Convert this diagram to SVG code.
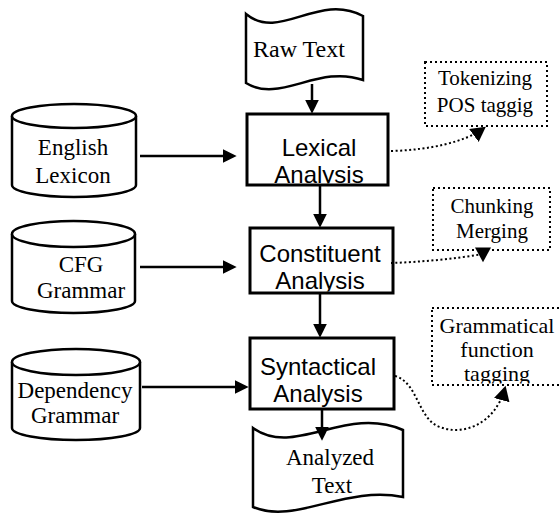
<svg xmlns="http://www.w3.org/2000/svg" width="559" height="515" viewBox="0 0 559 515">
<style>
.serif{font-family:"Liberation Serif","Times New Roman",serif;font-size:23px;fill:#000;text-anchor:middle}
.small{font-size:22px}
.smaller{font-size:21px}
.sans{font-family:"Liberation Sans",Arial,sans-serif;font-size:24px;fill:#000;text-anchor:middle}
.box{fill:#fff;stroke:#000;stroke-width:3}
.shape{fill:#fff;stroke:#000;stroke-width:2.5}
.dbox{fill:#fff;stroke:#000;stroke-width:2;stroke-dasharray:2 3}
.arrow{fill:none;stroke:#000;stroke-width:2.5;marker-end:url(#ah)}
.dot{fill:none;stroke:#000;stroke-width:2;stroke-dasharray:2 2.5;marker-end:url(#dh)}
</style>
<defs>
<marker id="ah" markerUnits="userSpaceOnUse" markerWidth="14" markerHeight="14" refX="2" refY="6" orient="auto" viewBox="0 0 12 12"><path d="M0,0 L12,6 L0,12 z" fill="#000"/></marker>
<marker id="dh" markerUnits="userSpaceOnUse" markerWidth="16" markerHeight="16" refX="11" refY="7" orient="auto" viewBox="0 0 14 14"><path d="M0,0 L13,7 L0,14 z" fill="#000"/></marker>
<clipPath id="c1"><rect x="248" y="115" width="139" height="68.5"/></clipPath>
<clipPath id="c2"><rect x="251" y="229" width="141" height="62.5"/></clipPath>
<clipPath id="c3"><rect x="251" y="339" width="142" height="68.5"/></clipPath>
<clipPath id="c4"><rect x="433" y="309" width="130" height="74.5"/></clipPath>
</defs>
<rect width="559" height="515" fill="#fff"/>

<g id="raw-text">
<path class="shape" d="M246,14 C280,42 318,-8 363,16 L363,80 C318,64 280,104 246,83 Z"/>
<text class="serif" x="299" y="57" style="font-size:24px">Raw Text</text>
</g>

<g id="lexical-analysis">
<rect class="box" x="247" y="114" width="141" height="71"/>
<g clip-path="url(#c1)">
<text class="sans" x="319" y="156">Lexical</text>
<text class="sans" x="319" y="183">Analysis</text>
</g>
</g>

<g id="constituent-analysis">
<rect class="box" x="250" y="228" width="143" height="65"/>
<g clip-path="url(#c2)">
<text class="sans" x="320" y="262">Constituent</text>
<text class="sans" x="320" y="289">Analysis</text>
</g>
</g>

<g id="syntactical-analysis">
<rect class="box" x="250" y="338" width="144" height="71"/>
<g clip-path="url(#c3)">
<text class="sans" x="318" y="375">Syntactical</text>
<text class="sans" x="318" y="402">Analysis</text>
</g>
</g>

<g id="analyzed-text">
<path class="shape" d="M253,428 C295,458 345,405 403,430 L403,497 C345,485 295,525 253,507 Z"/>
<text class="serif" x="330" y="465">Analyzed</text>
<text class="serif" x="332" y="493">Text</text>
</g>

<g id="english-lexicon">
<path class="shape" d="M12,116 L12,185 A62,12 0 0 0 136,185 L136,116"/>
<ellipse class="shape" cx="74" cy="116" rx="62" ry="12"/>
<text class="serif" x="73" y="155">English</text>
<text class="serif" x="73" y="183">Lexicon</text>
</g>

<g id="cfg-grammar">
<path class="shape" d="M12,234 L12,301 A61.5,12 0 0 0 135,301 L135,234"/>
<ellipse class="shape" cx="73.5" cy="234" rx="61.5" ry="13"/>
<text class="serif" x="81" y="272">CFG</text>
<text class="serif" x="81" y="298">Grammar</text>
</g>

<g id="dependency-grammar">
<path class="shape" d="M12,362 L12,428 A64,12 0 0 0 140,428 L140,362"/>
<ellipse class="shape" cx="76" cy="362" rx="64" ry="13"/>
<text class="serif" x="75" y="398">Dependency</text>
<text class="serif" x="75" y="423">Grammar</text>
</g>

<g id="tokenizing">
<rect class="dbox" x="425" y="62" width="122" height="64"/>
<text class="serif smaller" x="485" y="85">Tokenizing</text>
<text class="serif smaller" x="485" y="112">POS taggig</text>
</g>

<g id="chunking">
<rect class="dbox" x="433" y="188" width="117" height="62"/>
<text class="serif smaller" x="492" y="213">Chunking</text>
<text class="serif smaller" x="492" y="238">Merging</text>
</g>

<g id="grammatical-function">
<rect class="dbox" x="432" y="308" width="140" height="77"/>
<g clip-path="url(#c4)">
<text class="serif small" x="497" y="333">Grammatical</text>
<text class="serif small" x="497" y="357">function</text>
<text class="serif small" x="497" y="381">tagging</text>
</g>
</g>

<g id="connectors">
<line class="arrow" x1="312" y1="84" x2="312" y2="102"/>
<line class="arrow" x1="320" y1="186" x2="320" y2="216"/>
<line class="arrow" x1="320" y1="294" x2="320" y2="326"/>
<line class="arrow" x1="322" y1="410" x2="322" y2="429"/>
<line class="arrow" x1="140" y1="156" x2="225" y2="156"/>
<line class="arrow" x1="140" y1="267" x2="225" y2="267"/>
<line class="arrow" x1="142" y1="387" x2="237" y2="387"/>
<path class="dot" d="M391,151 C430,150 465,142 484,128"/>
<path class="dot" d="M391,263 C420,262 455,259 483,254 L483,260"/>
<path class="dot" d="M395,376 C418,382 418,420 440,427 C462,436 495,425 505,388"/>
</g>
</svg>
